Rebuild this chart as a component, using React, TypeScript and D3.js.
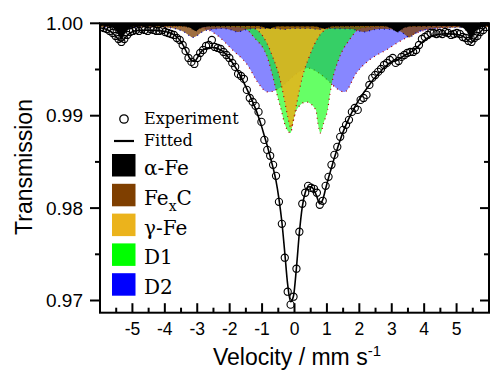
import React from 'react';
import * as d3 from 'd3';

// channel velocities, mm/s
const velocity = [
  -5.97, -5.88, -5.79, -5.70, -5.61, -5.52, -5.43, -5.34, -5.25, -5.16,
  -5.07, -4.98, -4.89, -4.80, -4.71, -4.62, -4.53, -4.44, -4.35, -4.26,
  -4.17, -4.08, -3.99, -3.90, -3.81, -3.72, -3.63, -3.54, -3.45, -3.36,
  -3.27, -3.18, -3.09, -3.00, -2.91, -2.82, -2.73, -2.64, -2.55, -2.46,
  -2.37, -2.28, -2.19, -2.10, -2.01, -1.92, -1.83, -1.74, -1.65, -1.56,
  -1.47, -1.38, -1.29, -1.20, -1.11, -1.02, -0.93, -0.84, -0.75, -0.66,
  -0.57, -0.48, -0.39, -0.30, -0.21, -0.12, -0.03, 0.06, 0.15, 0.24,
  0.33, 0.42, 0.51, 0.60, 0.69, 0.78, 0.87, 0.96, 1.05, 1.14,
  1.23, 1.32, 1.41, 1.50, 1.59, 1.68, 1.77, 1.86, 1.95, 2.04,
  2.13, 2.22, 2.31, 2.40, 2.49, 2.58, 2.67, 2.76, 2.85, 2.94,
  3.03, 3.12, 3.21, 3.30, 3.39, 3.48, 3.57, 3.66, 3.75, 3.84,
  3.93, 4.02, 4.11, 4.20, 4.29, 4.38, 4.47, 4.56, 4.65, 4.74,
  4.83, 4.92, 5.01, 5.10, 5.19, 5.28, 5.37, 5.46, 5.55, 5.64,
  5.73, 5.82, 5.91,
];

// measured transmission
const experiment = [
  0.99960, 0.99949, 0.99938, 0.99917, 0.99895, 0.99863, 0.99830, 0.99798, 0.99830, 0.99874,
  0.99906, 0.99917, 0.99928, 0.99917, 0.99938, 0.99928, 0.99917, 0.99938, 0.99928, 0.99917,
  0.99917, 0.99928, 0.99906, 0.99895, 0.99884, 0.99874, 0.99841, 0.99819, 0.99765, 0.99701,
  0.99625, 0.99582, 0.99560, 0.99625, 0.99679, 0.99711, 0.99755, 0.99765, 0.99819, 0.99744,
  0.99733, 0.99722, 0.99690, 0.99657, 0.99625, 0.99571, 0.99528, 0.99452, 0.99430, 0.99398,
  0.99279, 0.99192, 0.99149, 0.99106, 0.99041, 0.98933, 0.98738, 0.98630, 0.98566, 0.98468,
  0.98349, 0.98068, 0.97830, 0.97463, 0.97095, 0.96955, 0.97041, 0.97344, 0.97744, 0.98047,
  0.98166, 0.98241, 0.98220, 0.98209, 0.98166, 0.98036, 0.98079, 0.98241, 0.98338, 0.98468,
  0.98576, 0.98663, 0.98771, 0.98847, 0.98901, 0.98955, 0.99041, 0.99084, 0.99063, 0.99171,
  0.99192, 0.99225, 0.99333, 0.99409, 0.99441, 0.99474, 0.99506, 0.99549, 0.99571, 0.99603,
  0.99625, 0.99571, 0.99592, 0.99636, 0.99657, 0.99679, 0.99690, 0.99690, 0.99711, 0.99765,
  0.99830, 0.99852, 0.99874, 0.99895, 0.99895, 0.99884, 0.99895, 0.99884, 0.99906, 0.99895,
  0.99874, 0.99884, 0.99895, 0.99884, 0.99852, 0.99841, 0.99809, 0.99798, 0.99841, 0.99863,
  0.99906, 0.99928, 0.99960,
];

// total fit
const fitted = [
  0.99949, 0.99944, 0.99933, 0.99917, 0.99895, 0.99863, 0.99825, 0.99803, 0.99830, 0.99868,
  0.99895, 0.99911, 0.99919, 0.99922, 0.99924, 0.99925, 0.99925, 0.99924, 0.99923, 0.99921,
  0.99919, 0.99916, 0.99910, 0.99903, 0.99892, 0.99876, 0.99852, 0.99819, 0.99771, 0.99711,
  0.99647, 0.99598, 0.99587, 0.99625, 0.99679, 0.99711, 0.99728, 0.99735, 0.99738, 0.99735,
  0.99728, 0.99711, 0.99690, 0.99657, 0.99619, 0.99576, 0.99528, 0.99474, 0.99420, 0.99355,
  0.99290, 0.99220, 0.99149, 0.99074, 0.98987, 0.98890, 0.98782, 0.98674, 0.98555, 0.98436,
  0.98295, 0.98101, 0.97852, 0.97517, 0.97171, 0.96987, 0.97052, 0.97355, 0.97733, 0.98014,
  0.98166, 0.98230, 0.98230, 0.98198, 0.98122, 0.98047, 0.98090, 0.98209, 0.98328, 0.98436,
  0.98544, 0.98641, 0.98738, 0.98825, 0.98901, 0.98971, 0.99036, 0.99095, 0.99149, 0.99198,
  0.99247, 0.99290, 0.99333, 0.99376, 0.99414, 0.99452, 0.99484, 0.99517, 0.99544, 0.99571,
  0.99587, 0.99592, 0.99609, 0.99630, 0.99652, 0.99668, 0.99684, 0.99701, 0.99728, 0.99760,
  0.99792, 0.99819, 0.99841, 0.99857, 0.99868, 0.99876, 0.99881, 0.99884, 0.99886, 0.99886,
  0.99885, 0.99883, 0.99879, 0.99871, 0.99859, 0.99839, 0.99809, 0.99792, 0.99825, 0.99863,
  0.99906, 0.99938, 0.99960,
];

// subspectra, each read at its own velocities
const alphaFeVel = [-6, -5.75, -5.6, -5.5, -5.42, -5.34, -5.26, -5.18, -5.08, -4.93, -3.5, -3.2, -3.05, -2.9, -2.6,
  -1.1, -0.78, -0.5, 0.6, 0.92, 1.2, 2.75, 3.0, 3.17, 3.34, 3.6, 5.0, 5.2, 5.3, 5.37, 5.44, 5.52, 5.6, 5.7, 5.85, 6];
const alphaFe = [0.99976, 0.99971, 0.99949, 0.99917, 0.99874, 0.99825, 0.99874, 0.99917, 0.99949, 0.99969, 0.99971, 0.99949, 0.99917, 0.99949, 0.99969,
  0.99971, 0.99944, 0.99968, 0.99968, 0.99944, 0.99969, 0.99971, 0.99944, 0.99906, 0.99944, 0.99969, 0.99971, 0.99949, 0.99917, 0.99874, 0.99819, 0.99874, 0.99917, 0.99949, 0.99969, 0.99976];

const fexcVel = [-6, -4.0, -3.6, -3.4, -3.25, -3.14, -3.0, -2.85, -2.6, -2.2, -1.95, -1.75, -1.55, -1.2, -0.55, -0.33, -0.1,
  0.5, 0.73, 1.0, 1.75, 1.95, 2.14, 2.35, 2.6, 3.05, 3.3, 3.42, 3.54, 3.66, 3.8, 4.05, 4.5, 6];
const fexc = [0.99960, 0.99955, 0.99933, 0.99906, 0.99868, 0.99847, 0.99868, 0.99906, 0.99933, 0.99944, 0.99928, 0.99906, 0.99928, 0.99944, 0.99944, 0.99933, 0.99944,
  0.99944, 0.99933, 0.99944, 0.99938, 0.99922, 0.99906, 0.99922, 0.99938, 0.99933, 0.99906, 0.99874, 0.99847, 0.99874, 0.99906, 0.99933, 0.99949, 0.99960];

const gammaFeVel = [-6, -1.6, -1.28, -0.94, -0.66, -0.48, -0.31, -0.2, -0.11, -0.02, 0.09, 0.26, 0.44, 0.72, 1.06, 1.4, 6];
const gammaFe = [0.99971, 0.99965, 0.99949, 0.99841, 0.99625, 0.99441, 0.99171, 0.98976, 0.98868, 0.98976, 0.99171, 0.99441, 0.99625, 0.99841, 0.99949, 0.99965, 0.99971];

const d1Vel = [-6, -2.5, -1.9, -1.57, -1.23, -0.83, -0.68, -0.52, -0.41, -0.31, -0.12, -0.05, 0.06, 0.36, 0.66, 0.72, 0.8,
  0.9, 1.02, 1.1, 1.16, 1.38, 1.69, 2.06, 2.5, 6];
const d1 = [0.99971, 0.99965, 0.99960, 0.99949, 0.99841, 0.99625, 0.99441, 0.99203, 0.99063, 0.98922, 0.98814, 0.98922, 0.99063, 0.99149, 0.99063, 0.98922, 0.98814,
  0.98922, 0.99063, 0.99247, 0.99365, 0.99625, 0.99819, 0.99949, 0.99960, 0.99971];

const d2Vel = [-6, -4.5, -3.5, -2.83, -2.4, -1.91, -1.45, -1.14, -0.83, -0.6, -0.3, 0.05, 0.4, 0.75, 1.05, 1.3, 1.54,
  1.91, 2.31, 2.83, 3.32, 3.85, 4.46, 5.2, 6];
const d2 = [0.99982, 0.99976, 0.99965, 0.99949, 0.99874, 0.99711, 0.99549, 0.99365, 0.99257, 0.99274, 0.99344, 0.99452, 0.99517, 0.99463, 0.99376, 0.99295, 0.99257,
  0.99463, 0.99603, 0.99711, 0.99819, 0.99906, 0.99949, 0.99971, 0.99982];

const legendNames = ['α-Fe', 'FexC', 'γ-Fe', 'D1', 'D2'];
const xTicks = [-5, -4, -3, -2, -1, 0, 1, 2, 3, 4, 5];
const xTickLabels = ['-5', '-4', '-3', '-2', '-1', '0', '1', '2', '3', '4', '5'];
const xMinorTicks = [-5.5, -4.5, -3.5, -2.5, -1.5, -0.5, 0.5, 1.5, 2.5, 3.5, 4.5, 5.5];
const yTicks = [0.97, 0.98, 0.99, 1.0];
const yTickLabels = ['0.97', '0.98', '0.99', '1.00'];
const yMinorTicks = [0.975, 0.985, 0.995];

const zip = (v: number[], t: number[]) => v.map((d, i) => [d, t[i]] as [number, number]);

// drawing order: D2 at the back, alpha-Fe in front
const components = [
  { key: 'D2', pts: zip(d2Vel, d2), fill: '#0000ff', opacity: 0.47, dot: '#b00000' },
  { key: 'D1', pts: zip(d1Vel, d1), fill: '#00ff00', opacity: 0.6, dot: '#b00000' },
  { key: 'gFe', pts: zip(gammaFeVel, gammaFe), fill: '#e9b31a', opacity: 0.86, dot: '#b00000' },
  { key: 'FexC', pts: zip(fexcVel, fexc), fill: '#7f3f00', opacity: 0.75, dot: '#0000b0' },
  { key: 'aFe', pts: zip(alphaFeVel, alphaFe), fill: '#000000', opacity: 1, dot: '#000000' },
];
const swatchColors = ['#000000', '#7f3f00', '#ebb31c', '#00ff00', '#0000ff'];

const W = 490;
const H = 371;
const L = 100, R = 489, T = 23.3, B = 312.7;

export default function App() {
  const x = d3.scaleLinear().domain([-6, 6]).range([L, R]);
  const y = d3.scaleLinear().domain([0.96868, 1.0]).range([B, T]);

  const area = d3.area<[number, number]>()
    .x(d => x(d[0]))
    .y0(y(1))
    .y1(d => y(d[1]))
    .curve(d3.curveMonotoneX);
  const line = d3.line<[number, number]>()
    .x(d => x(d[0]))
    .y(d => y(d[1]))
    .curve(d3.curveMonotoneX);

  const fitPts = zip(velocity, fitted);
  const expPts = zip(velocity, experiment);

  const sans = '"Liberation Sans", Arial, sans-serif';
  const serif = '"DejaVu Serif", serif';

  return (
    <svg width={W} height={H} style={{ position: 'absolute', left: 0, top: 0 }}>
      <defs>
        <clipPath id="plot">
          <rect x={L} y={T} width={R - L} height={B - T} />
        </clipPath>
      </defs>
      <rect x={0} y={0} width={W} height={H} fill="#fff" />

      <g clipPath="url(#plot)">
        {components.map(c => (
          <g key={c.key}>
            <path d={area(c.pts) || ''} fill={c.fill} fillOpacity={c.opacity} />
            <path d={line(c.pts) || ''} fill="none" stroke={c.dot} strokeWidth={1.2} strokeDasharray="1 4" />
          </g>
        ))}
        <path d={line(fitPts) || ''} fill="none" stroke="#000" strokeWidth={1.6} />
        {expPts.map((d, i) => (
          <circle key={i} cx={x(d[0])} cy={y(d[1])} r={3.6} fill="none" stroke="#000" strokeWidth={1.1} />
        ))}
      </g>

      {/* frame */}
      <rect x={L} y={T} width={R - L} height={B - T} fill="none" stroke="#000" strokeWidth={2} />

      {/* bottom axis, ticks pointing in */}
      {xTicks.map((t, i) => (
        <g key={'xt' + t}>
          <line x1={x(t)} x2={x(t)} y1={B} y2={B - 9.5} stroke="#000" strokeWidth={2} />
          <text x={x(t)} y={335} textAnchor="middle" fontFamily={sans} fontSize={17.5}>{xTickLabels[i]}</text>
        </g>
      ))}
      {xMinorTicks.map(t => (
        <line key={'xm' + t} x1={x(t)} x2={x(t)} y1={B} y2={B - 5} stroke="#000" strokeWidth={2} />
      ))}

      {/* left axis, ticks out; right axis, ticks in */}
      {yTicks.map((t, i) => (
        <g key={'yt' + t}>
          <line x1={L - 10} x2={L} y1={y(t)} y2={y(t)} stroke="#000" strokeWidth={2} />
          <line x1={R - 9} x2={R} y1={y(t)} y2={y(t)} stroke="#000" strokeWidth={2} />
          <text x={83} y={y(t)} dy="0.35em" textAnchor="end" fontFamily={sans} fontSize={19}>{yTickLabels[i]}</text>
        </g>
      ))}
      {yMinorTicks.map(t => (
        <g key={'ym' + t}>
          <line x1={L - 5} x2={L} y1={y(t)} y2={y(t)} stroke="#000" strokeWidth={2} />
          <line x1={R - 5} x2={R} y1={y(t)} y2={y(t)} stroke="#000" strokeWidth={2} />
        </g>
      ))}

      {/* axis titles */}
      <text transform="translate(32,167) rotate(-90)" textAnchor="middle" fontFamily={sans} fontSize={23}>Transmission</text>
      <text x={213} y={365} fontFamily={sans} fontSize={23}>
        Velocity / mm s<tspan dy={-9} fontSize={15}>-1</tspan>
      </text>

      {/* legend */}
      <circle cx={124} cy={119} r={4.2} fill="none" stroke="#000" strokeWidth={1.3} />
      <text x={144} y={124} fontFamily={serif} fontSize={16}>Experiment</text>
      <line x1={114} x2={134} y1={141} y2={141} stroke="#000" strokeWidth={2.2} />
      <text x={144} y={146} fontFamily={serif} fontSize={16}>Fitted</text>
      {legendNames.map((n, i) => {
        const top = 154 + i * 29.8;
        return (
          <g key={n}>
            <rect x={112} y={top} width={23.5} height={22.5} fill={swatchColors[i]} />
            <text x={144} y={top + 21} fontFamily={serif} fontSize={20}>
              {n === 'FexC' ? (
                <>
                  Fe<tspan dy={6} fontSize={14}>x</tspan><tspan dy={-6}>C</tspan>
                </>
              ) : n}
            </text>
          </g>
        );
      })}
    </svg>
  );
}
